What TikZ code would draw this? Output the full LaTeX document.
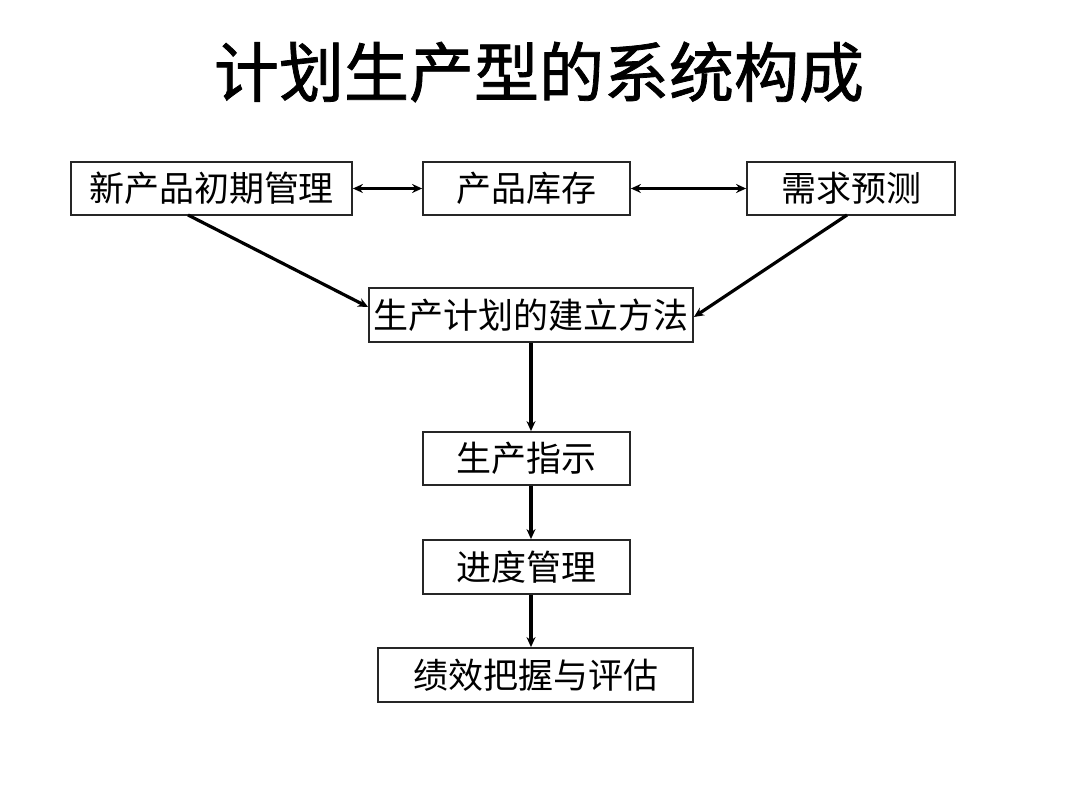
\documentclass[tikz,border=0pt]{standalone}
\usepackage{fontspec}
\newfontfamily\cjk{Noto Sans CJK SC}
\newfontfamily\cjktitle[FakeBold=1.2]{Noto Sans CJK SC}
\usetikzlibrary{arrows.meta}
\begin{document}
\begin{tikzpicture}[x=1pt,y=-1pt,
  box/.style={draw=black!85,line width=1.8pt,inner sep=0pt,font=\cjk\fontsize{35}{40}\selectfont},
  conn/.style={line width=3.2pt,-{Stealth[length=10pt,width=9pt]}},
  biconn/.style={line width=3.2pt,{Stealth[length=10pt,width=9pt]}-{Stealth[length=10pt,width=9pt]}}]
\useasboundingbox[fill=white] (0,0) rectangle (1080,810);
\node[font=\cjktitle\fontsize{65}{72}\selectfont] (title) at (539,72) {计划生产型的系统构成};
\node[box,minimum width=281pt,minimum height=53pt] (a) at (211.5,188.5) {新产品初期管理};
\node[box,minimum width=207pt,minimum height=53pt] (b) at (526.5,188.5) {产品库存};
\node[box,minimum width=208pt,minimum height=53pt] (c) at (851,188.5) {需求预测};
\node[box,minimum width=324pt,minimum height=54pt] (d) at (531,315) {生产计划的建立方法};
\node[box,minimum width=207pt,minimum height=53pt] (e) at (526.5,458.5) {生产指示};
\node[box,minimum width=207pt,minimum height=54pt] (f) at (526.5,567) {进度管理};
\node[box,minimum width=315pt,minimum height=54pt] (g) at (535.5,675) {绩效把握与评估};
\draw[biconn] (a.east) -- (b.west);
\draw[biconn] (b.east) -- (c.west);
\coordinate (aS) at (188,215);
\coordinate (cS) at (847,215);
\draw[conn] (aS) -- ([yshift=8pt]d.west);
\draw[conn] (cS) -- ([yshift=-2pt]d.east);
\draw[conn] (d.south) -- (d.south |- e.north);
\draw[conn] (d.south |- e.south) -- (d.south |- f.north);
\draw[conn] (d.south |- f.south) -- (d.south |- g.north);
\end{tikzpicture}
\end{document}
